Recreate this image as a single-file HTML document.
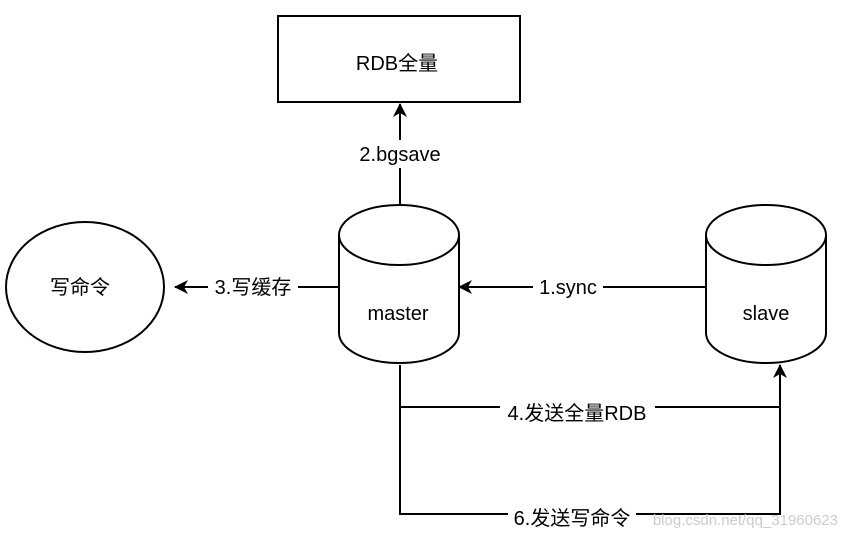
<!DOCTYPE html>
<html><head><meta charset="utf-8"><style>
html,body{margin:0;padding:0;background:#fff;}
svg{display:block}
text{font-family:"Liberation Sans","Noto Sans CJK SC",sans-serif;fill:#000}
</style></head><body>
<svg width="844" height="538" viewBox="0 0 844 538">
<defs><marker id="a" markerWidth="16" markerHeight="16" refX="13" refY="7" orient="auto" markerUnits="userSpaceOnUse"><path d="M0,0 L14,7 L0,14 L4,7 Z" fill="#000"/></marker></defs>
<g fill="none" stroke="#000" stroke-width="2">
<rect x="278" y="16" width="242" height="86"/>
<ellipse cx="85" cy="287" rx="79" ry="65"/>
<path d="M339,235 A60,30 0 0 1 459,235 L459,333 A60,30 0 0 1 339,333 Z"/>
<path d="M339,235 A60,30 0 0 0 459,235"/>
<path d="M706,235 A60,30 0 0 1 826,235 L826,333 A60,30 0 0 1 706,333 Z"/>
<path d="M706,235 A60,30 0 0 0 826,235"/>
<line x1="400" y1="205" x2="400" y2="104" marker-end="url(#a)"/>
<line x1="339" y1="287" x2="175" y2="287" marker-end="url(#a)"/>
<line x1="706" y1="287" x2="459" y2="287" marker-end="url(#a)"/>
<polyline points="400,365 400,407 780,407 780,365" marker-end="url(#a)"/>
<polyline points="400,407 400,514 780,514 780,367"/>
</g>
<g font-size="20" text-anchor="middle">
<rect x="350" y="140" width="100" height="28" fill="#fff"/>
<rect x="208" y="275" width="90" height="26" fill="#fff"/>
<rect x="533" y="275" width="70" height="26" fill="#fff"/>
<rect x="500" y="395" width="155" height="26" fill="#fff"/>
<rect x="508" y="503" width="128" height="26" fill="#fff"/>
<text x="397" y="70">RDB全量</text>
<text x="400" y="161">2.bgsave</text>
<text x="80" y="294">写命令</text>
<text x="253" y="294">3.写缓存</text>
<text x="568" y="294">1.sync</text>
<text x="398" y="320">master</text>
<text x="766" y="320">slave</text>
<text x="577" y="420">4.发送全量RDB</text>
<text x="572" y="525">6.发送写命令</text>
</g>
<text x="838" y="525" font-size="15" text-anchor="end" style="fill:#ccc">blog.csdn.net/qq_31960623</text>
</svg>
</body></html>
